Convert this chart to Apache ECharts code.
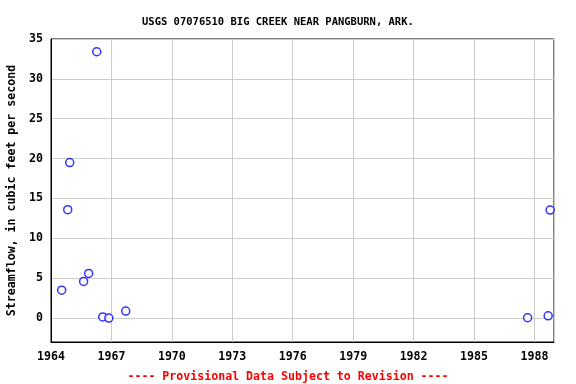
<!DOCTYPE html>
<html>
<head>
<meta charset="utf-8">
<script src="https://cdn.jsdelivr.net/npm/echarts@6/dist/echarts.min.js"></script>
<style>html,body{margin:0;padding:0;background:#fff}#c{width:576px;height:384px}</style>
</head>
<body>
<div id="c"></div>
<script>
// Decimal year of each measurement
const years = [1964.53, 1964.83, 1964.93, 1965.62, 1965.87, 1966.27, 1966.57, 1966.87, 1967.71, 1987.66, 1988.68, 1988.78];
// Streamflow, cubic feet per second
const flows = [3.5, 13.6, 19.5, 4.6, 5.6, 33.4, 0.15, 0.0, 0.88, 0.04, 0.29, 13.55];
const xTickLabels = ['1964','1967','1970','1973','1976','1979','1982','1985','1988'];
const yTickLabels = ['0','5','10','15','20','25','30','35'];

const titleText = 'USGS 07076510 BIG CREEK NEAR PANGBURN, ARK.';
const footText = '---- Provisional Data Subject to Revision ----';
const yName = 'Streamflow, in cubic feet per second';

const font = 'DejaVu Sans Mono';
const chart = echarts.init(document.getElementById('c'), null, {renderer: 'canvas'});
chart.setOption({
  animation: false,
  backgroundColor: '#fff',
  title: [{
    text: titleText, left: 137, top: 12,
    textStyle: {fontFamily: font, fontSize: 10.5, fontWeight: 'bold', color: '#000'}
  }, {
    text: footText, left: 'center', top: 366,
    textStyle: {fontFamily: font, fontSize: 11.6, fontWeight: 'bold', color: '#ff0000'}
  }],
  grid: {left: 51, right: 22, top: 39, bottom: 42, containLabel: false, outerBoundsMode: 'none',
    show: true, borderColor: '#000', borderWidth: 1, backgroundColor: 'transparent'},
  xAxis: {
    type: 'value', min: 1964, max: 1988.97, interval: 3,
    axisLine: {show: true, onZero: false, lineStyle: {color: '#000'}},
    axisTick: {show: false},
    splitLine: {show: true, lineStyle: {color: '#cccccc', width: 1}},
    axisLabel: {
      margin: 9, color: '#000', fontFamily: font, fontSize: 11.6, fontWeight: 'bold', showMaxLabel: false,
      formatter: v => { const s = String(Math.round(v)); return (Math.abs(v - Math.round(v)) < 1e-6 && xTickLabels.includes(s)) ? s : ''; }
    }
  },
  yAxis: {
    type: 'value', min: -3, max: 35, splitNumber: 7, minInterval: 5, maxInterval: 5,
    name: yName, nameLocation: 'middle', nameGap: 33,
    nameTextStyle: {fontFamily: font, fontSize: 11.6, fontWeight: 'bold', color: '#000'},
    axisLine: {show: true, onZero: false, lineStyle: {color: '#000'}},
    axisTick: {show: false},
    splitLine: {show: true, lineStyle: {color: '#cccccc', width: 1}},
    axisLabel: {
      margin: 8, color: '#000', fontFamily: font, fontSize: 11.6, fontWeight: 'bold', showMinLabel: false,
      formatter: v => { const s = String(Math.round(v)); return (Math.abs(v - Math.round(v)) < 1e-6 && yTickLabels.includes(s)) ? s : ''; }
    }
  },
  series: [{
    type: 'scatter',
    data: years.map((y, i) => [y, flows[i]]),
    symbol: 'circle', symbolSize: 8,
    itemStyle: {color: '#ffffff', borderColor: '#0000ff', borderWidth: 1.5}
  }]
});
</script>
</body>
</html>
